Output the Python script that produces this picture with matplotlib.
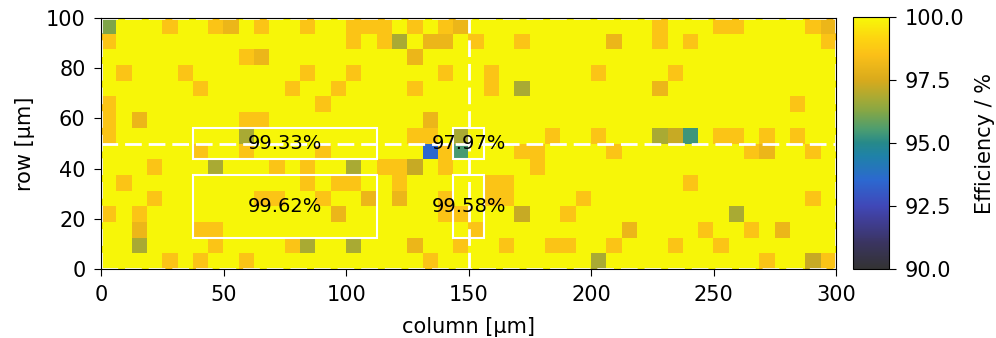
import numpy as np
import matplotlib
matplotlib.use('Agg')
import matplotlib.pyplot as plt
from matplotlib.colors import LinearSegmentedColormap
from matplotlib.patches import Rectangle

# pixel matrix: 48 columns x 16 rows, 6.25 um pitch
n_cols = 48
n_rows = 16
sensor_width = 300
sensor_height = 100
base_eff = 99.95

# efficiency level of each colour class seen in the map
levels = {'o': 98.65, 'O': 98.05, 'y': 97.25, 'g': 96.8, 'G': 96.2,
          't': 95.5, 'T': 95.35, 'b': 93.5}

# row -> "column+class" for every pixel that is not fully efficient
defects = {
    15: '0G 4o 7o 8O 10o 13o 16o 17o 18o 20o 22o 23O 36o 40o 41o 46o 47O',
    14: '0o 16o 18o 19g 21O 22O 24o 27o 33O 36o 38o 47o',
    13: '9o 10O 20O',
    12: '1o 5o 13o 16o 22o 25o 32o 37o',
    11: '6o 12o 15o 20o 25o 27g 36O',
    10: '0o 14o 45o',
    9: '0o 2O 9o 10o 21O',
    8: '0o 9g 20o 21o 23g 29o 32o 36g 37y 38T 40o 41o 43o 45o',
    7: '6o 9o 14o 21b 22o 23t 27o 28o 33o 42o 43O 46o',
    6: '3o 7g 11o 13o 16g 18o 19o 20y 22o 28o',
    5: '1o 13o 15o 16o 19o 25o 26o 38o',
    4: '3o 10o 11o 14o 17O 19O 22o 25o 26o 31o 46o',
    3: '0o 2o 15O 22o 23o 27y 30o 41g',
    2: '2O 6o 7o 24o 34O 39o 42o 44O',
    1: '2g 7o 12o 13g 16g 20O 23o 26o 29o 30o 33o 37o 40o',
    0: '4o 6o 9o 21o 32g 43o 46y 47o',
}

# regions of interest and their mean efficiency
roi_x = [37.5, 37.5, 143.75, 143.75]
roi_y = [43.75, 12.5, 43.75, 12.5]
roi_w = [75, 75, 12.5, 12.5]
roi_h = [12.5, 25, 12.5, 25]
roi_labels = ['99.33%', '99.62%', '97.97%', '99.58%']

# dashed sensor boundaries
bound_x = [0, 150, 300]
bound_y = [0, 50, 100]

cbar_ticks = [90.0, 92.5, 95.0, 97.5, 100.0]

grid = np.full((n_rows, n_cols), base_eff)
for row, spec in defects.items():
    for item in spec.split():
        grid[row, int(item[:-1])] = levels[item[-1]]

cmap = LinearSegmentedColormap.from_list('eff', [
    (0.00, '#333333'), (0.10, '#3a3460'), (0.20, '#403f9a'),
    (0.25, '#4048b8'), (0.35, '#2c68d0'), (0.45, '#1f82a8'),
    (0.50, '#26898a'), (0.55, '#4a9c72'), (0.62, '#80a648'),
    (0.68, '#a8aa34'), (0.75, '#d8aa1c'), (0.85, '#fbc018'),
    (0.92, '#fdd510'), (1.00, '#f7f808')])

plt.rcParams['font.family'] = 'DejaVu Sans'
plt.rcParams['font.size'] = 15

fig = plt.figure(figsize=(9.96, 3.38), dpi=100)
ax = fig.add_axes([0.1019, 0.2041, 0.7374, 0.7426])
cax = fig.add_axes([0.856, 0.2041, 0.0368, 0.7456])

im = ax.imshow(grid, origin='lower', extent=(0, sensor_width, 0, sensor_height),
               aspect='auto', cmap=cmap, vmin=90, vmax=100,
               interpolation='nearest')

for xb in bound_x:
    ax.axvline(xb, color='white', lw=2, ls=(0, (6, 2.5)))
for yb in bound_y:
    ax.axhline(yb, color='white', lw=2, ls=(0, (6, 2.5)))

for x0, y0, w, h, lab in zip(roi_x, roi_y, roi_w, roi_h, roi_labels):
    ax.add_patch(Rectangle((x0, y0), w, h, fill=False, ec='white', lw=1.5))
    ax.text(x0 + w / 2, y0 + h / 2, lab, ha='center', va='center',
            fontsize=14, color='black')

ax.set_xlim(0, sensor_width)
ax.set_ylim(0, sensor_height)
ax.set_xticks(range(0, 301, 50))
ax.set_yticks(range(0, 101, 20))
ax.tick_params(length=5, pad=6.5)
ax.set_xlabel('column [µm]', labelpad=9)
ax.set_ylabel('row [µm]', labelpad=8)

cb = fig.colorbar(im, cax=cax, ticks=cbar_ticks, format='%.1f')
cb.ax.tick_params(length=5, pad=6)
cb.set_label('Efficiency / %', labelpad=8)

fig.savefig('out.png', dpi=100)
